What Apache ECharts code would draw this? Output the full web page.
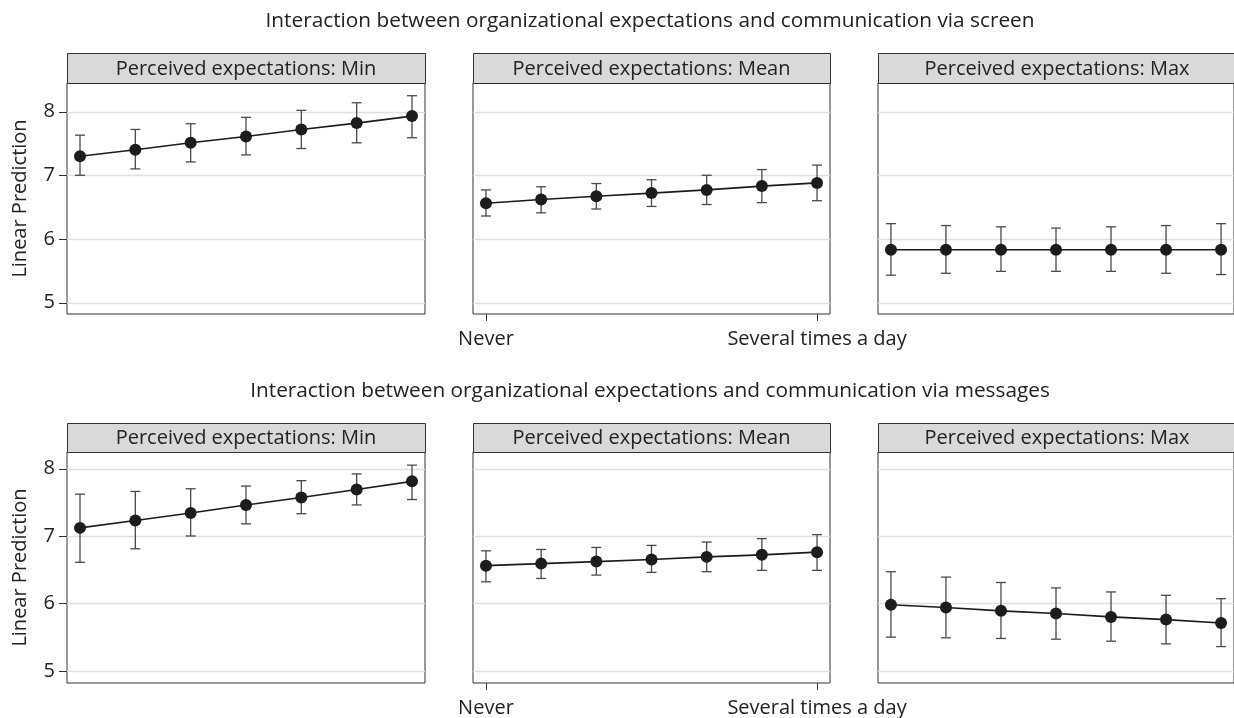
<!DOCTYPE html>
<html>
<head>
<meta charset="utf-8">
<script src="https://cdn.jsdelivr.net/npm/echarts@6/dist/echarts.min.js"></script>
<style>
  html, body { margin: 0; padding: 0; background: #ffffff; }
  #chart { width: 1234px; height: 718px; }
</style>
</head>
<body>
<div id="chart"></div>
<script>
// Frequency levels of communication (0 = Never ... 6 = Several times a day)
const levels = [0, 1, 2, 3, 4, 5, 6];
const xTickValues = [0, 6];
const xTickLabels = ['Never', 'Several times a day'];
const yTickValues = [5, 6, 7, 8];
const yAxisTitle = 'Linear Prediction';

const rowTitles = [
  'Interaction between organizational expectations and communication via screen',
  'Interaction between organizational expectations and communication via messages'
];
const panelTitles = [
  'Perceived expectations: Min',
  'Perceived expectations: Mean',
  'Perceived expectations: Max'
];

// Communication via screen: predictions with 95% CI
const screenMin   = [7.30, 7.40, 7.51, 7.61, 7.72, 7.82, 7.93];
const screenMinLo = [7.00, 7.10, 7.21, 7.32, 7.42, 7.51, 7.59];
const screenMinHi = [7.63, 7.72, 7.81, 7.91, 8.02, 8.14, 8.25];

const screenMean   = [6.56, 6.62, 6.67, 6.72, 6.77, 6.83, 6.88];
const screenMeanLo = [6.36, 6.41, 6.47, 6.51, 6.54, 6.57, 6.60];
const screenMeanHi = [6.77, 6.82, 6.87, 6.93, 7.00, 7.09, 7.16];

const screenMax   = [5.83, 5.83, 5.83, 5.83, 5.83, 5.83, 5.83];
const screenMaxLo = [5.43, 5.46, 5.49, 5.49, 5.49, 5.46, 5.44];
const screenMaxHi = [6.24, 6.21, 6.19, 6.17, 6.19, 6.21, 6.24];

// Communication via messages: predictions with 95% CI
const msgMin   = [7.12, 7.23, 7.34, 7.46, 7.57, 7.69, 7.81];
const msgMinLo = [6.61, 6.81, 7.00, 7.18, 7.33, 7.46, 7.54];
const msgMinHi = [7.62, 7.66, 7.70, 7.74, 7.82, 7.92, 8.05];

const msgMean   = [6.56, 6.59, 6.62, 6.65, 6.69, 6.72, 6.76];
const msgMeanLo = [6.32, 6.37, 6.42, 6.46, 6.47, 6.49, 6.49];
const msgMeanHi = [6.78, 6.80, 6.83, 6.86, 6.91, 6.96, 7.02];

const msgMax   = [5.98, 5.94, 5.89, 5.85, 5.80, 5.76, 5.71];
const msgMaxLo = [5.50, 5.49, 5.48, 5.47, 5.44, 5.40, 5.36];
const msgMaxHi = [6.47, 6.39, 6.31, 6.23, 6.17, 6.12, 6.07];

const panels = [
  [[screenMin, screenMinLo, screenMinHi], [screenMean, screenMeanLo, screenMeanHi], [screenMax, screenMaxLo, screenMaxHi]],
  [[msgMin, msgMinLo, msgMinHi], [msgMean, msgMeanLo, msgMeanHi], [msgMax, msgMaxLo, msgMaxHi]]
];

// Layout
const FONT = 'Open Sans';
const FS = 20;
const TITLE_FS = 20.8;
const TEXT = '#222222';
const AXIS = '#333333';
const cols = [
  { left: 67, width: 358 },
  { left: 473, width: 357 },
  { left: 878, width: 358 }
];
const rows = [
  { stripTop: 53, top: 83, height: 231, yMin: 4.82, yMax: 8.45, titleY: 21 },
  { stripTop: 423, top: 452, height: 231, yMin: 4.82, yMax: 8.245, titleY: 391 }
];
const xMin = -0.235, xMax = 6.235;
const Y_TICK_LEN = 8, X_TICK_LEN = 7;

const grids = [], xAxes = [], yAxes = [], series = [], graphics = [];

rows.forEach((row, r) => {
  graphics.push({
    type: 'text', z: 11,
    style: { text: rowTitles[r], x: 650, y: row.titleY, align: 'center', verticalAlign: 'middle',
             font: TITLE_FS + 'px "' + FONT + '"', fill: TEXT }
  });
  cols.forEach((col, c) => {
    const gi = grids.length;
    grids.push({
      left: col.left, top: row.top, width: col.width, height: row.height,
      show: true, borderColor: AXIS, borderWidth: 1, backgroundColor: '#ffffff'
    });
    const showX = c === 1;
    xAxes.push({
      gridIndex: gi, type: 'value', min: xMin, max: xMax,
      axisLine: { show: false }, splitLine: { show: false }, axisTick: { show: false },
      axisLabel: {
        show: showX, customValues: xTickValues, margin: 15,
        formatter: v => xTickLabels[xTickValues.indexOf(v)],
        fontFamily: FONT, fontSize: FS, color: TEXT
      }
    });
    const showY = c === 0;
    yAxes.push({
      gridIndex: gi, type: 'value', min: row.yMin, max: row.yMax,
      axisLine: { show: false }, splitLine: { show: false }, axisTick: { show: false },
      axisLabel: { show: showY, customValues: yTickValues, margin: 12, fontFamily: FONT, fontSize: FS, color: TEXT },
      name: showY ? yAxisTitle : '', nameLocation: 'middle', nameGap: 37, nameRotate: 90,
      nameTextStyle: { fontFamily: FONT, fontSize: FS, color: TEXT }
    });

    const [mean, lo, hi] = panels[r][c];

    // Horizontal reference lines at the y ticks, plus outward tick marks on the left column
    series.push({
      type: 'custom', xAxisIndex: gi, yAxisIndex: gi, silent: true, z: 1, clip: false,
      data: yTickValues.map(v => [levels[0], v]),
      encode: { x: 0, y: 1 },
      renderItem: (params, api) => {
        const cs = params.coordSys;
        const y = Math.round(api.coord([api.value(0), api.value(1)])[1]) + 0.5;
        const children = [{
          type: 'line',
          shape: { x1: cs.x, y1: y, x2: cs.x + cs.width, y2: y },
          style: { stroke: '#e0e0e0', lineWidth: 1.3 }
        }];
        if (showY) {
          children.push({
            type: 'line',
            shape: { x1: cs.x - Y_TICK_LEN, y1: y, x2: cs.x, y2: y },
            style: { stroke: AXIS, lineWidth: 1 }
          });
        }
        return { type: 'group', children };
      }
    });

    // Tick marks below the middle column
    if (showX) {
      series.push({
        type: 'custom', xAxisIndex: gi, yAxisIndex: gi, silent: true, z: 1, clip: false,
        data: xTickValues.map(v => [v, row.yMin]),
        encode: { x: 0, y: 1 },
        renderItem: (params, api) => {
          const cs = params.coordSys;
          const x = Math.round(api.coord([api.value(0), api.value(1)])[0]) + 0.5;
          const yb = cs.y + cs.height;
          return {
            type: 'line',
            shape: { x1: x, y1: yb, x2: x, y2: yb + X_TICK_LEN },
            style: { stroke: AXIS, lineWidth: 1 }
          };
        }
      });
    }

    // Confidence interval whiskers
    series.push({
      type: 'custom', xAxisIndex: gi, yAxisIndex: gi, silent: true, z: 3,
      data: levels.map((x, i) => [x, lo[i], hi[i]]),
      encode: { x: 0, y: [1, 2] },
      renderItem: (params, api) => {
        const pLo = api.coord([api.value(0), api.value(1)]);
        const pHi = api.coord([api.value(0), api.value(2)]);
        const half = 5;
        const st = { stroke: '#4a4a4a', lineWidth: 1.3 };
        return {
          type: 'group',
          children: [
            { type: 'line', shape: { x1: pLo[0], y1: pLo[1], x2: pHi[0], y2: pHi[1] }, style: st },
            { type: 'line', shape: { x1: pHi[0] - half, y1: pHi[1], x2: pHi[0] + half, y2: pHi[1] }, style: st },
            { type: 'line', shape: { x1: pLo[0] - half, y1: pLo[1], x2: pLo[0] + half, y2: pLo[1] }, style: st }
          ]
        };
      }
    });

    // Predicted values
    series.push({
      type: 'line', xAxisIndex: gi, yAxisIndex: gi, z: 5,
      data: levels.map((x, i) => [x, mean[i]]),
      symbol: 'circle', symbolSize: 12, showSymbol: true,
      lineStyle: { color: '#1c1c1c', width: 1.6 },
      itemStyle: { color: '#1c1c1c' }
    });

    // Panel header strip
    const sx = col.left, sy = row.stripTop, sw = col.width, sh = row.top - row.stripTop;
    graphics.push({
      type: 'rect', z: 10,
      shape: { x: sx + 0.5, y: sy + 0.5, width: sw, height: sh },
      style: { fill: '#d9d9d9', stroke: AXIS, lineWidth: 1 }
    });
    graphics.push({
      type: 'text', z: 11,
      style: { text: panelTitles[c], x: sx + sw / 2, y: sy + sh / 2 + 1, align: 'center', verticalAlign: 'middle',
               font: FS + 'px "' + FONT + '"', fill: TEXT }
    });
  });
});

const chart = echarts.init(document.getElementById('chart'), null, { renderer: 'canvas' });
chart.setOption({
  animation: false,
  backgroundColor: '#ffffff',
  grid: grids,
  xAxis: xAxes,
  yAxis: yAxes,
  series: series,
  graphic: { elements: graphics }
});
</script>
</body>
</html>
